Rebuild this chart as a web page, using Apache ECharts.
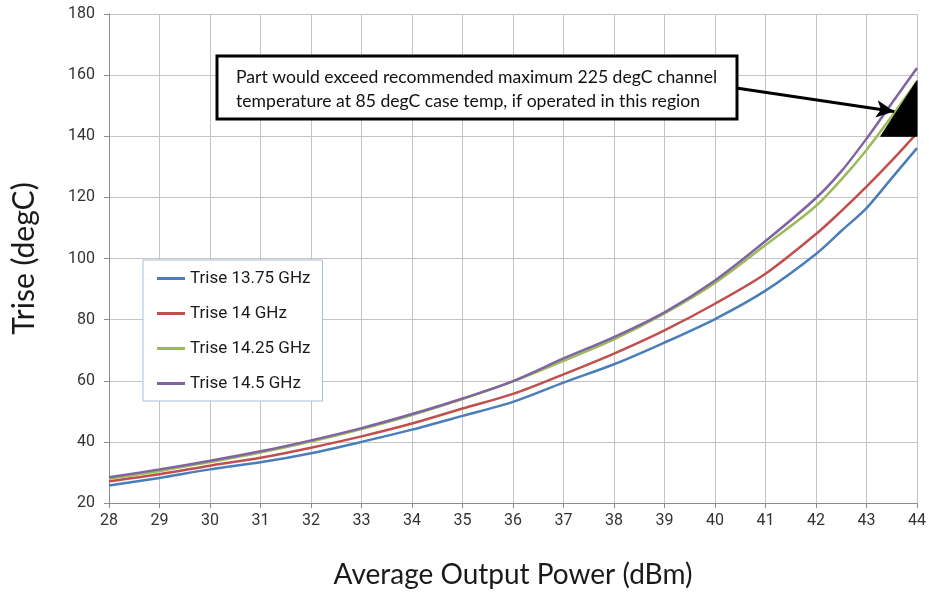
<!DOCTYPE html>
<html>
<head>
<meta charset="utf-8">
<script src="https://cdn.jsdelivr.net/npm/echarts@6/dist/echarts.min.js"></script>
<style>
  html, body { margin: 0; padding: 0; background: #fff; }
  #chart { width: 929px; height: 594px; }
</style>
</head>
<body>
<div id="chart"></div>
<script>
// Output power sweep points (dBm)
const powerDbm = [28, 29, 30, 31, 32, 33, 34, 35, 36, 37, 38, 39, 40, 41, 42, 42.5, 43, 43.5, 44];

// Temperature rise (degC) per carrier frequency
const trise1375 = [25.7, 28.2, 31.0, 33.3, 36.3, 40.0, 44.0, 48.5, 53.1, 59.4, 65.4, 72.5, 80.2, 89.5, 101.5, 109.0, 116.5, 126.3, 136.1];
const trise1400 = [27.1, 29.4, 32.2, 34.8, 38.1, 41.8, 46.0, 50.9, 55.7, 62.1, 68.9, 76.5, 85.2, 95.0, 108.0, 115.5, 123.5, 132.0, 141.0];
const trise1425 = [28.0, 30.5, 33.4, 36.5, 40.1, 44.2, 48.8, 54.0, 59.8, 66.5, 73.5, 82.0, 92.0, 104.4, 117.2, 125.8, 135.5, 146.5, 158.0];
const trise1450 = [28.4, 31.0, 33.8, 36.9, 40.5, 44.5, 49.1, 54.2, 59.9, 67.3, 74.3, 82.4, 92.8, 105.7, 119.8, 128.5, 139.2, 150.8, 162.3];

const seriesNames = ['Trise 13.75 GHz', 'Trise 14 GHz', 'Trise 14.25 GHz', 'Trise 14.5 GHz'];
const seriesValues = [trise1375, trise1400, trise1425, trise1450];
const seriesColors = ['#4a7ebb', '#c0504d', '#9bbb59', '#8064a2'];

// Region exceeding the 225 degC channel limit at 85 degC case (dBm, degC)
const overLimitZone = [[43.28, 140], [44, 158.2], [44, 140]];
// Callout arrow: from the note box to the region (dBm, degC)
const calloutArrow = [[40.42, 155.8], [43.55, 148.1]];

const noteLines = [
  'Part would exceed recommended maximum 225 degC channel',
  'temperature at 85 degC case temp, if operated in this region'
];

const xTicks = { min: 28, max: 44, interval: 1 };
const yTicks = { min: 20, max: 180, interval: 20 };

const titleFont = 'Lato';

const chart = echarts.init(document.getElementById('chart'), null, { renderer: 'canvas' });

const lineSeries = seriesNames.map((name, i) => ({
  name: name,
  type: 'line',
  data: powerDbm.map((p, k) => [p, seriesValues[i][k]]),
  symbol: 'none',
  smooth: 0.3,
  lineStyle: { color: seriesColors[i], width: 2.5 },
  itemStyle: { color: seriesColors[i] },
  emphasis: { disabled: true },
  z: 3
}));

const option = {
  animation: false,
  backgroundColor: '#fff',
  grid: { left: 109, right: 11, top: 14, bottom: 90, containLabel: false },
  legend: {
    data: seriesNames.map((n) => ({ name: n, icon: 'rect' })),
    orient: 'vertical',
    left: 143,
    top: 260,
    padding: [10, 12, 9, 14],
    itemWidth: 28,
    itemHeight: 3,
    itemGap: 18,
    backgroundColor: '#fff',
    borderColor: '#a7bfdc',
    borderWidth: 1,
    borderRadius: 0,
    textStyle: { fontFamily: 'Roboto', fontSize: 17, color: '#1a1a1a', lineHeight: 14 },
    selectedMode: false
  },
  xAxis: {
    type: 'value',
    min: xTicks.min,
    max: xTicks.max,
    interval: xTicks.interval,
    name: 'Average Output Power (dBm)',
    nameLocation: 'middle',
    nameGap: 58,
    nameTextStyle: { fontFamily: titleFont, fontSize: 28, color: '#1a1a1a' },
    axisLine: { show: true, onZero: false, lineStyle: { color: '#8c8c8c', width: 1 } },
    axisTick: { show: true, length: 5, lineStyle: { color: '#8c8c8c' } },
    axisLabel: { fontFamily: 'Roboto', fontSize: 16, color: '#333', margin: 10 },
    splitLine: { show: true, lineStyle: { color: '#c4c4c4', width: 1 } }
  },
  yAxis: {
    type: 'value',
    min: yTicks.min,
    max: yTicks.max,
    interval: yTicks.interval,
    name: 'Trise (degC)',
    nameLocation: 'middle',
    nameGap: 70,
    nameRotate: 90,
    nameTextStyle: { fontFamily: titleFont, fontSize: 30, color: '#1a1a1a' },
    axisLine: { show: true, lineStyle: { color: '#8c8c8c', width: 1 } },
    axisTick: { show: true, length: 5, lineStyle: { color: '#8c8c8c' } },
    axisLabel: { fontFamily: 'Roboto', fontSize: 16, color: '#333', margin: 14 },
    splitLine: { show: true, lineStyle: { color: '#c4c4c4', width: 1 } }
  },
  series: lineSeries.concat([
    {
      name: 'over-limit',
      type: 'custom',
      silent: true,
      z: 4,
      data: [0],
      renderItem: function (params, api) {
        const pts = overLimitZone.map(p => api.coord(p));
        return {
          type: 'polygon',
          shape: { points: pts },
          style: { fill: '#000', stroke: '#000', lineWidth: 1 }
        };
      }
    },
    {
      name: 'callout',
      type: 'line',
      data: [],
      silent: true,
      z: 6,
      markLine: {
        silent: true,
        animation: false,
        symbol: ['none', 'arrow'],
        symbolSize: [13, 18],
        label: { show: false },
        emphasis: { disabled: true },
        lineStyle: { color: '#000', width: 3, type: 'solid' },
        data: [[{ coord: calloutArrow[0] }, { coord: calloutArrow[1] }]]
      }
    }
  ]),
  graphic: [
    {
      type: 'rect',
      z: 100,
      shape: { x: 217, y: 56, width: 520, height: 63 },
      style: { fill: '#fff', stroke: '#000', lineWidth: 3 }
    },
    {
      type: 'text',
      z: 101,
      x: 236, y: 77,
      style: { text: noteLines[0], fontFamily: titleFont, fontSize: 17.6, fill: '#111', verticalAlign: 'middle' }
    },
    {
      type: 'text',
      z: 101,
      x: 236, y: 101,
      style: { text: noteLines[1], fontFamily: titleFont, fontSize: 17.6, fill: '#111', verticalAlign: 'middle' }
    }
  ]
};

chart.setOption(option);
</script>
</body>
</html>
